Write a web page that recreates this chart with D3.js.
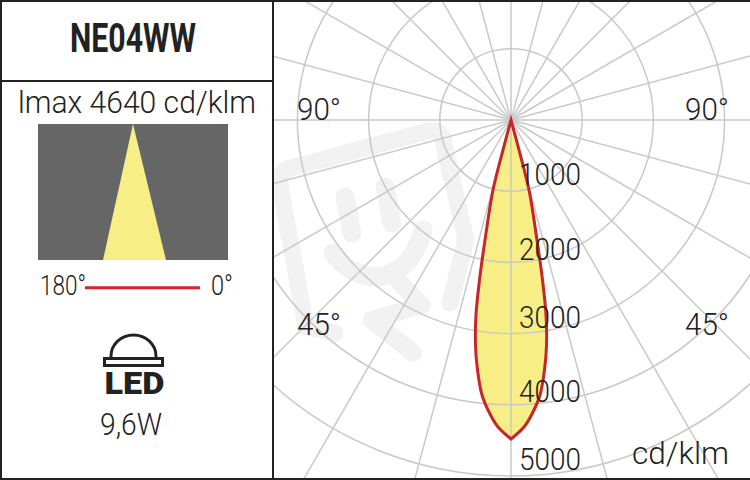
<!DOCTYPE html>
<html lang="en">
<head>
<meta charset="UTF-8" />
<title>NE04WW</title>
<style>
  html, body { margin: 0; padding: 0; background: #fff; }
  text { font-family: Roboto, "Open Sans", sans-serif; fill: #222; }
</style>
</head>
<body>
<div class="chart"></div>
<script src="https://d3js.org/d3.v7.min.js"></script>
<script>
// angle from nadir (deg) and intensity (cd/klm)
const beamAngles = [0, 2.42, 4.2, 6.02, 7.63, 8.97, 10.18, 11.14, 12.22, 14.42, 14.93, 15]
const beamValues = [4480, 4316, 4126, 3884, 3543, 3199, 2783, 2290, 1724, 1015, 436, 0]
const ringValues = [1000, 2000, 3000, 4000, 5000]
const ringLabelShift = [-6, -2, -6, -3, -6]
const spokeAngles = d3.range(0, 360, 15)

const width = 750, height = 480
const splitX = 273
const cx = 511, cy = 120
const gridColor = '#c9c9c9'

const svg = d3.select('.chart').append('svg')
  .attr('width', width).attr('height', height)
  .style('display', 'block')

const rScale = d3.scaleLinear().domain([0, 5000]).range([0, 356])

svg.append('clipPath').attr('id', 'plotClip').append('rect')
  .attr('x', splitX).attr('y', 0).attr('width', width - splitX).attr('height', height)

const plot = svg.append('g').attr('clip-path', 'url(#plotClip)')

// faint logo behind the grid
const logo = plot.append('g')
  .attr('fill', 'none').attr('stroke', '#f2f2f2').attr('stroke-linecap', 'round').attr('stroke-linejoin', 'round')
logo.append('path').attr('stroke-width', 17)
  .attr('d', 'M335,333 L306,327 L280,186 Q277,172 291,168 L428,131 Q440,128 443,140 L466,240 L450,303')
logo.append('path').attr('stroke-width', 19)
  .attr('d', 'M345,197 L352,233 M385,187 L392,223')
logo.append('path').attr('stroke-width', 19)
  .attr('d', 'M333,253 Q350,276 378,277 Q412,272 423,230')
logo.append('path').attr('stroke-width', 18)
  .attr('d', 'M393,276 L422,305 L372,320 L413,353')

const g = plot.append('g').attr('transform', `translate(${cx},${cy})`)

// beam, both halves mirrored so the tip stays sharp
const beam = beamAngles.map((a, i) => [a, beamValues[i]])
const halfBeam = d3.lineRadial()
  .angle(d => d[0])
  .radius(d => d[1])
  .curve(d3.curveCatmullRom)
const rightSide = halfBeam(beam.map(d => [Math.PI - d[0] * Math.PI / 180, rScale(d[1])]))
const leftSide = halfBeam(beam.slice().reverse().map(d => [Math.PI + d[0] * Math.PI / 180, rScale(d[1])]))
const beamPath = rightSide + 'L' + leftSide.slice(1) + 'Z'

g.append('path').attr('d', beamPath).attr('fill', '#f7ee85')

// rings and spokes
g.selectAll('.ring').data(ringValues).join('circle')
  .attr('class', 'ring')
  .attr('r', d => rScale(d))
  .attr('fill', 'none').attr('stroke', gridColor).attr('stroke-width', 1.5)

g.selectAll('.spoke').data(spokeAngles).join('line')
  .attr('class', 'spoke')
  .attr('x2', d => 440 * Math.sin(d * Math.PI / 180))
  .attr('y2', d => -440 * Math.cos(d * Math.PI / 180))
  .attr('stroke', gridColor).attr('stroke-width', 1.5)

g.append('path').attr('d', beamPath)
  .attr('fill', 'none')
  .attr('stroke', '#c8252b').attr('stroke-width', 3).attr('stroke-linejoin', 'miter')

const label = (x, y, txt, size, len) => svg.append('text')
  .attr('x', x).attr('y', y).attr('font-size', size).attr('font-weight', 300)
  .attr('textLength', len).attr('lengthAdjust', 'spacingAndGlyphs')
  .text(txt)

// ring labels
ringValues.forEach((v, i) => label(519, cy + rScale(v) + ringLabelShift[i], d3.format('d')(v), 32, 62))

label(297, 120, '90°', 32, 44)
label(685, 120, '90°', 32, 44)
label(297, 335, '45°', 32, 44)
label(685, 335, '45°', 32, 44)
label(632, 464, 'cd/klm', 32, 97)

// left panel
svg.append('text').attr('x', 133).attr('y', 52).attr('text-anchor', 'middle')
  .attr('font-size', 40).attr('font-weight', 700)
  .attr('textLength', 126).attr('lengthAdjust', 'spacingAndGlyphs')
  .text('NE04WW')
label(18, 113, 'lmax 4640 cd/klm', 31, 238)

svg.append('rect').attr('x', 38).attr('y', 124).attr('width', 190).attr('height', 136).attr('fill', '#666')
svg.append('path').attr('d', d3.line()([[133, 124], [166, 260], [103, 260]]) + 'Z').attr('fill', '#f7ee85')

label(40, 295, '180°', 27, 46)
label(211, 295, '0°', 27, 22)
svg.append('line').attr('x1', 85).attr('x2', 200).attr('y1', 287.7).attr('y2', 287.7)
  .attr('stroke', '#d9232a').attr('stroke-width', 3)

// LED icon
const icon = svg.append('g').attr('fill', 'none').attr('stroke', '#222').attr('stroke-width', 3)
icon.append('path').attr('d', 'M111,358 V356 A22.5,21 0 0 1 156,356 V358')
icon.append('rect').attr('x', 104.5).attr('y', 358.5).attr('width', 58).attr('height', 7)
svg.append('text').attr('x', 134.5).attr('y', 393.5).attr('text-anchor', 'middle')
  .attr('font-size', 31).attr('font-weight', 900)
  .attr('textLength', 60).attr('lengthAdjust', 'spacingAndGlyphs')
  .text('LED')
label(100, 435, '9,6W', 31, 62)

// panel frame, open on the right like the original
const frame = svg.append('g').attr('stroke', '#222').attr('stroke-width', 2)
frame.append('line').attr('x1', 0).attr('x2', width).attr('y1', 1).attr('y2', 1)
frame.append('line').attr('x1', 0).attr('x2', width).attr('y1', 479).attr('y2', 479)
frame.append('line').attr('x1', 1).attr('x2', 1).attr('y1', 0).attr('y2', height)
frame.append('line').attr('x1', splitX).attr('x2', splitX).attr('y1', 0).attr('y2', height)
frame.append('line').attr('x1', 0).attr('x2', splitX).attr('y1', 81).attr('y2', 81)
</script>
</body>
</html>
